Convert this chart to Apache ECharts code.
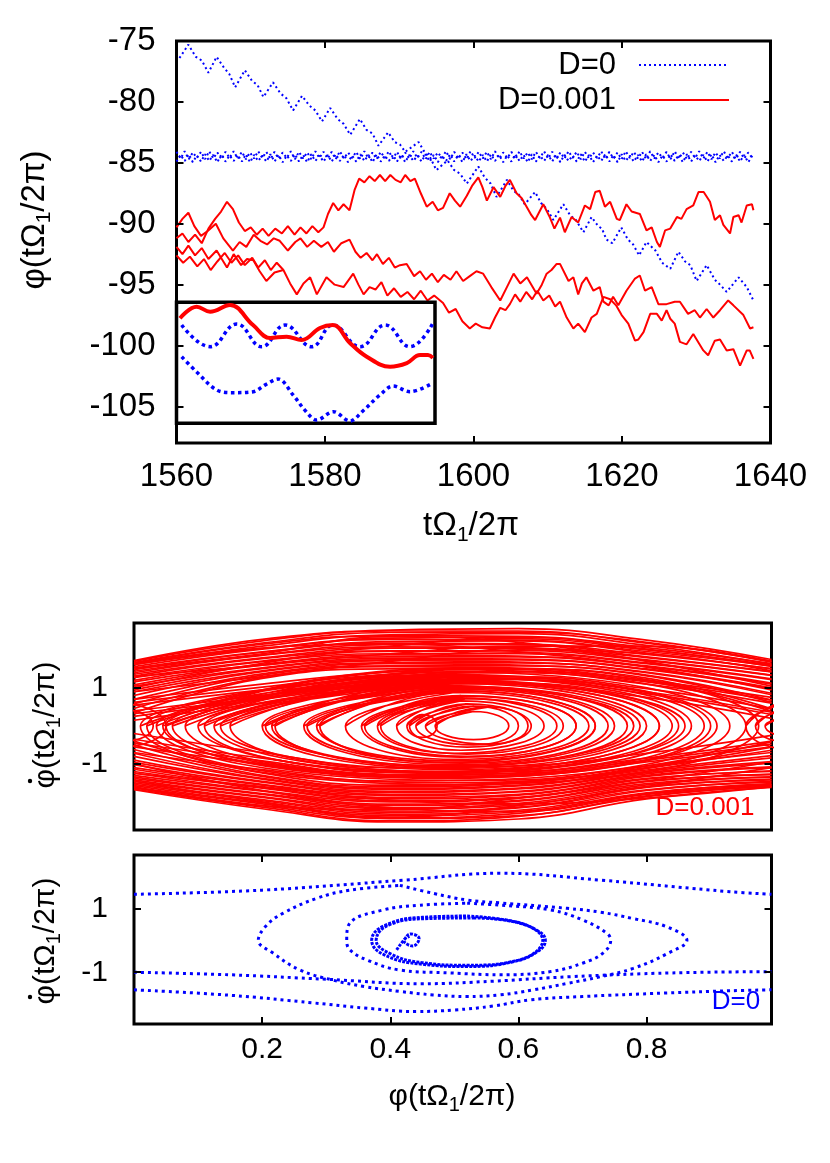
<!DOCTYPE html>
<html>
<head>
<meta charset="utf-8">
<script src="https://cdn.jsdelivr.net/npm/echarts@6/dist/echarts.min.js"></script>
<style>
html, body { margin: 0; padding: 0; background: #fff; }
#chart { width: 830px; height: 1163px; }
</style>
</head>
<body>
<div id="chart"></div>
<script>
var FONT = "'Liberation Sans', Arial, Helvetica, sans-serif";
var BLUE = '#0000ff';
var RED = '#ff0000';

// ---------- top panel: phi(t) ----------
var tLabels = [1560, 1580, 1600, 1620, 1640];
var tTicks = [1580, 1600, 1620];
var phiLabels = [-105, -100, -95, -90, -85, -80, -75];
var phiTicks = [-105, -100, -95, -90, -85, -80];

// D=0, drifting orbit (peaks and troughs of the sawtooth)
var blueDrift = [
  [1560.4,-76.4],[1561.6,-75.3],[1562.6,-76.3],[1563.4,-76.6],[1564.3,-77.6],[1565.4,-76.3],[1566.4,-77.2],[1567.1,-77.7],
  [1567.9,-78.8],[1569.2,-77.4],[1570.2,-78.3],[1570.9,-78.6],[1571.7,-79.6],[1573.0,-78.4],[1574.0,-79.3],[1574.8,-79.7],
  [1575.7,-80.7],[1576.9,-79.5],[1577.9,-80.3],[1578.7,-80.7],[1579.6,-81.6],[1580.7,-80.5],[1581.7,-81.4],[1582.5,-81.8],
  [1583.4,-82.7],[1584.7,-81.4],[1585.6,-82.3],[1586.4,-82.6],[1587.2,-83.6],[1588.5,-82.5],[1589.4,-83.3],[1590.1,-83.5],
  [1590.8,-84.1],[1592.6,-83.3],[1593.5,-84.2],[1594.2,-84.6],[1595.0,-85.6],[1596.5,-84.8],[1597.4,-85.6],[1598.2,-85.9],
  [1599.1,-86.7],[1600.65,-85.3],[1601.5,-86.2],[1602.3,-86.7],[1603.1,-87.8],[1604.5,-86.4],[1605.4,-87.3],[1606.1,-87.6],
  [1606.9,-88.4],[1608.3,-87.4],[1609.1,-88.3],[1609.9,-88.8],[1610.75,-89.7],[1612.1,-88.4],[1613.0,-89.3],[1613.8,-89.7],
  [1614.8,-90.7],[1615.9,-89.45],[1616.8,-90.2],[1617.3,-90.4],[1617.9,-91.3],[1618.7,-91.6],[1619.9,-90.3],[1620.8,-91.3],
  [1621.5,-91.7],[1622.3,-92.6],[1623.3,-91.5],[1624.5,-92.2],[1625.4,-93.2],[1626.5,-93.7],[1627.6,-92.3],[1628.5,-93.1],
  [1629.2,-93.4],[1630.05,-94.7],[1631.4,-93.4],[1632.5,-94.6],[1633.2,-95.0],[1634.1,-95.6],[1635.7,-94.4],[1636.8,-95.2],
  [1637.7,-96.3]
];

// D=0, locked orbit near -84.5: two braided strands sampled every 0.55
var flatT0 = 1560;
var flatDt = 0.55;
var flatA = [
  -84.1,-84.65,-84.05,-84.7,-84.15,-84.6,-84.1,-84.7,-84.05,-84.65,
  -84.15,-84.7,-84.1,-84.6,-84.05,-84.65,-84.1,-84.7,-84.15,-84.65,
  -84.05,-84.6,-84.1,-84.7,-84.1,-84.65,-84.15,-84.6,-84.05,-84.7,
  -84.1,-84.65,-84.15,-84.7,-84.05,-84.6,-84.1,-84.65,-84.1,-84.7,
  -84.05,-84.65,-84.15,-84.6,-84.1,-84.7,-84.05,-84.65,-84.15,-84.7,
  -84.1,-84.6,-84.05,-84.65,-84.1,-84.7,-84.15,-84.65,-84.05,-84.6,
  -84.1,-84.7,-84.1,-84.65,-84.15,-84.6,-84.05,-84.7,-84.1,-84.65,
  -84.15,-84.7,-84.05,-84.6,-84.1,-84.65,-84.1,-84.7,-84.05,-84.65,
  -84.15,-84.6,-84.1,-84.7,-84.05,-84.65,-84.15,-84.7,-84.1,-84.6,
  -84.05,-84.65,-84.1,-84.7,-84.15,-84.65,-84.05,-84.6,-84.1,-84.7,
  -84.1,-84.65,-84.15,-84.6,-84.05,-84.7,-84.1,-84.65,-84.15,-84.7,
  -84.05,-84.6,-84.1,-84.65,-84.1,-84.7,-84.05,-84.65,-84.15,-84.6,
  -84.1,-84.7,-84.05,-84.65,-84.15,-84.7,-84.1,-84.6,-84.05,-84.65,
  -84.1,-84.7,-84.15,-84.65,-84.05,-84.6,-84.1,-84.7,-84.1,-84.65,
  -84.15,-84.6
];
var flatB = [
  -84.9,-84.35,-84.85,-84.3,-84.95,-84.4,-84.9,-84.3,-84.85,-84.35,
  -84.95,-84.3,-84.9,-84.4,-84.85,-84.35,-84.9,-84.3,-84.95,-84.35,
  -84.85,-84.4,-84.9,-84.3,-84.9,-84.35,-84.95,-84.4,-84.85,-84.3,
  -84.9,-84.35,-84.95,-84.3,-84.85,-84.4,-84.9,-84.35,-84.9,-84.3,
  -84.85,-84.35,-84.95,-84.4,-84.9,-84.3,-84.85,-84.35,-84.95,-84.3,
  -84.9,-84.4,-84.85,-84.35,-84.9,-84.3,-84.95,-84.35,-84.85,-84.4,
  -84.9,-84.3,-84.9,-84.35,-84.95,-84.4,-84.85,-84.3,-84.9,-84.35,
  -84.95,-84.3,-84.85,-84.4,-84.9,-84.35,-84.9,-84.3,-84.85,-84.35,
  -84.95,-84.4,-84.9,-84.3,-84.85,-84.35,-84.95,-84.3,-84.9,-84.4,
  -84.85,-84.35,-84.9,-84.3,-84.95,-84.35,-84.85,-84.4,-84.9,-84.3,
  -84.9,-84.35,-84.95,-84.4,-84.85,-84.3,-84.9,-84.35,-84.95,-84.3,
  -84.85,-84.4,-84.9,-84.35,-84.9,-84.3,-84.85,-84.35,-84.95,-84.4,
  -84.9,-84.3,-84.85,-84.35,-84.95,-84.3,-84.9,-84.4,-84.85,-84.35,
  -84.9,-84.3,-84.95,-84.35,-84.85,-84.4,-84.9,-84.3,-84.9,-84.35,
  -84.95,-84.4
];

// D=0.001 realisations
var redA = [
  [1560.0,-91.2],[1560.8,-90.8],[1561.6,-91.5],[1562.5,-90.9],[1563.4,-91.6],[1564.3,-90.4],[1565.2,-89.6],[1566.0,-89.0],
  [1566.8,-88.2],[1567.6,-88.8],[1568.4,-89.9],[1569.2,-90.6],[1570.0,-90.3],[1570.8,-90.9],[1571.6,-90.4],[1572.4,-91.0],
  [1573.3,-90.4],[1574.2,-90.8],[1575.0,-90.2],[1575.9,-90.9],[1576.7,-90.3],[1577.5,-90.8],[1578.3,-90.2],[1579.1,-90.7],
  [1579.8,-90.3],[1580.4,-89.2],[1581.1,-88.3],[1581.8,-88.9],[1582.5,-88.4],[1583.3,-88.9],[1584.0,-87.2],[1584.6,-86.3],
  [1585.3,-86.6],[1586.0,-86.1],[1586.7,-86.5],[1587.4,-86.0],[1588.1,-86.5],[1588.8,-86.0],[1589.5,-86.4],[1590.2,-86.6],
  [1590.8,-86.0],[1591.5,-86.5],[1592.1,-86.3],[1592.9,-87.5],[1593.7,-88.6],[1594.5,-88.2],[1595.2,-88.9],[1595.9,-88.7],
  [1596.8,-87.5],[1597.5,-88.1],[1598.2,-88.6],[1599.1,-87.7],[1599.8,-86.9],[1600.65,-86.2],[1601.2,-87.0],[1601.8,-88.1],
  [1602.7,-87.0],[1603.6,-87.8],[1604.3,-86.9],[1604.9,-86.4],[1605.8,-87.5],[1606.5,-87.9],[1607.15,-88.6],[1607.8,-89.3],
  [1608.3,-89.7],[1609.4,-88.4],[1610.3,-89.5],[1610.9,-90.4],[1611.65,-89.5],[1612.3,-90.7],[1613.2,-89.45],[1614.1,-89.9],
  [1615.0,-88.5],[1615.7,-88.8],[1616.4,-87.4],[1617.0,-87.3],[1617.7,-88.6],[1618.4,-88.2],[1619.3,-89.6],[1619.7,-89.7],
  [1620.6,-88.4],[1621.3,-89.0],[1622.4,-89.2],[1623.3,-90.55],[1624.0,-90.3],[1624.7,-91.5],[1625.1,-91.9],[1625.8,-90.55],
  [1626.5,-90.4],[1627.4,-89.45],[1628.0,-89.6],[1628.7,-88.8],[1629.6,-88.5],[1630.3,-87.4],[1631.0,-87.4],[1631.85,-88.2],
  [1632.5,-89.7],[1633.2,-89.3],[1633.65,-90.1],[1634.55,-90.8],[1635.0,-89.45],[1635.7,-89.3],[1636.1,-89.9],[1636.8,-88.5],
  [1637.5,-88.4],[1637.7,-88.9]
];
var redB = [
  [1560.0,-90.3],[1560.8,-89.6],[1561.6,-89.1],[1562.4,-90.2],[1563.3,-91.0],[1564.2,-90.6],[1565.3,-90.0],[1566.3,-91.2],
  [1567.6,-92.2],[1568.5,-91.5],[1569.4,-91.9],[1570.4,-90.9],[1571.3,-91.4],[1572.2,-91.7],[1573.1,-91.2],[1573.9,-91.4],
  [1575.0,-92.2],[1576.0,-91.5],[1576.7,-91.2],[1577.6,-91.9],[1578.5,-91.4],[1579.5,-91.9],[1580.4,-91.5],[1581.2,-92.3],
  [1582.2,-91.6],[1583.3,-91.3],[1584.1,-92.3],[1584.8,-92.8],[1585.6,-92.4],[1586.4,-93.0],[1587.0,-92.5],[1587.8,-93.3],
  [1588.6,-92.8],[1589.4,-93.6],[1590.1,-93.4],[1591.0,-93.3],[1592.0,-94.3],[1592.8,-93.9],[1593.6,-94.6],[1594.4,-94.1],
  [1595.2,-94.8],[1596.0,-94.2],[1596.9,-94.6],[1597.7,-93.9],[1598.6,-94.7],[1599.5,-94.3],[1600.4,-93.9],[1601.3,-94.1],
  [1602.4,-95.2],[1603.6,-96.3],[1604.5,-95.2],[1605.4,-94.1],[1606.3,-94.9],[1607.2,-94.4],[1608.5,-95.75],[1609.2,-95.0],
  [1609.85,-94.1],[1610.5,-93.8],[1611.2,-93.3],[1611.65,-93.3],[1612.8,-94.7],[1613.45,-94.4],[1614.1,-95.8],[1614.6,-94.9],
  [1615.2,-94.4],[1616.15,-95.5],[1617.0,-95.2],[1617.5,-96.4],[1618.2,-96.7],[1618.8,-96.0],[1619.5,-96.7],[1620.6,-95.5],
  [1621.75,-94.5],[1622.4,-94.25],[1623.1,-95.5],[1624.0,-95.2],[1624.9,-96.6],[1626.0,-96.6],[1627.1,-96.4],[1627.8,-96.4],
  [1628.9,-97.4],[1629.8,-97.1],[1630.5,-97.7],[1631.4,-97.0],[1632.3,-97.7],[1633.2,-97.1],[1634.3,-96.3],[1635.0,-96.7],
  [1636.35,-97.5],[1637.25,-98.6],[1637.7,-98.5]
];
var redC = [
  [1560.0,-91.9],[1560.8,-92.5],[1561.6,-91.8],[1562.5,-92.6],[1563.4,-92.0],[1564.3,-92.9],[1565.4,-92.2],[1566.8,-93.6],
  [1567.7,-92.5],[1568.7,-93.4],[1569.5,-92.9],[1570.35,-93.0],[1571.2,-93.9],[1572.1,-94.7],[1573.2,-94.0],[1574.4,-93.8],
  [1575.3,-94.9],[1576.2,-95.8],[1577.1,-94.9],[1578.0,-94.4],[1578.9,-95.8],[1580.2,-94.4],[1581.3,-95.0],[1582.5,-95.2],
  [1583.8,-94.1],[1584.5,-95.0],[1585.2,-95.8],[1586.0,-95.2],[1586.8,-95.4],[1587.6,-94.8],[1588.4,-95.9],[1589.3,-95.3],
  [1590.2,-96.0],[1591.1,-95.6],[1592.0,-96.2],[1592.9,-95.5],[1593.8,-96.3],[1594.7,-95.9],[1595.9,-96.5],[1596.7,-97.3],
  [1597.6,-97.0],[1598.5,-98.0],[1599.5,-98.6],[1600.3,-98.2],[1601.2,-98.5],[1602.2,-98.6],[1602.9,-97.7],[1603.6,-96.9],
  [1604.3,-97.1],[1604.9,-96.6],[1605.6,-95.8],[1606.3,-96.4],[1607.1,-95.6],[1607.9,-96.2],[1608.6,-95.5],[1609.4,-96.3],
  [1610.2,-95.9],[1611.0,-96.8],[1611.65,-96.4],[1612.55,-97.7],[1613.45,-98.6],[1614.1,-98.2],[1615.0,-98.9],[1615.9,-97.7],
  [1616.6,-97.4],[1617.5,-96.0],[1618.4,-96.2],[1619.2,-96.7],[1619.95,-97.5],[1620.85,-98.2],[1621.75,-99.6],[1622.2,-99.5],
  [1622.9,-98.9],[1623.8,-97.4],[1624.7,-97.4],[1625.35,-97.95],[1626.0,-97.1],[1626.5,-97.8],[1627.1,-98.2],[1627.8,-99.7],
  [1628.7,-99.9],[1629.6,-99.05],[1630.95,-100.4],[1631.6,-100.8],[1632.5,-99.6],[1633.2,-99.5],[1634.1,-100.4],[1635.0,-100.3],
  [1635.9,-101.65],[1636.8,-100.4],[1637.2,-100.4],[1637.7,-101.1]
];
var redD = [
  [1560.0,-92.6],[1560.9,-93.2],[1561.8,-92.7],[1562.8,-93.5],[1563.7,-92.9],[1564.6,-93.8],[1565.5,-93.1],[1566.5,-92.4],
  [1567.4,-93.2],[1568.3,-92.6],[1569.2,-93.4],[1570.2,-92.8],[1571.0,-93.6],[1571.9,-93.0],[1572.7,-93.8],[1573.5,-93.2],
  [1574.4,-93.8]
];

// inset (magnified window, its own 0..100 frame)
var insetRed = [
  [1.35,86.8],[7.8,96.4],[13.0,92.2],[20.7,97.8],[29.6,81.2],[36.2,70.5],[42.6,71.6],[48.4,68.8],
  [55.5,78.8],[60.5,81.2],[67.1,66.4],[73.6,55.0],[82.6,46.8],[89.1,49.8],[94.2,56.4],[97.3,56.4],[99.2,54.0]
];
var insetBlueA = [
  [2.0,81.2],[13.0,63.3],[23.3,82.0],[33.0,63.3],[42.0,81.2],[52.3,63.3],[60.5,81.2],[71.0,63.3],
  [80.7,81.2],[90.3,63.3],[99.2,82.9]
];
var insetBlueB = [
  [2.0,55.0],[8.0,42.0],[15.6,27.5],[21.9,25.3],[29.7,26.1],[34.5,32.0],[39.3,36.6],[45.1,23.4],
  [50.0,10.0],[54.2,2.7],[60.7,9.6],[67.1,1.9],[72.0,10.0],[78.7,23.4],[83.8,30.8],[90.3,26.1],[99.2,33.3]
];

// ---------- middle panel: D=0.001 phase portrait ----------
var phaseLabels = [0.2, 0.4, 0.6, 0.8];
var dotLabels = [-1, 1];
var bandX = [0, 0.2, 0.4, 0.6, 0.8, 0.995];
var redTopBand = [
  [1.72,2.28,2.52,2.56,2.26,1.75],[1.70,2.24,2.50,2.50,2.18,1.71],[1.67,2.18,2.46,2.47,2.20,1.68],
  [1.65,2.15,2.40,2.43,2.12,1.62],[1.61,2.10,2.38,2.36,2.06,1.64],[1.62,2.04,2.31,2.34,2.02,1.57],
  [1.56,2.02,2.28,2.26,1.96,1.58],[1.52,1.95,2.22,2.24,1.92,1.50],[1.48,1.94,2.18,2.16,1.88,1.51],
  [1.44,1.87,2.14,2.14,1.82,1.43],[1.40,1.86,2.08,2.06,1.80,1.42],[1.36,1.79,2.05,2.04,1.74,1.34],
  [1.31,1.77,1.98,1.98,1.72,1.33],[1.27,1.71,1.96,1.94,1.66,1.24],[1.20,1.69,1.90,1.90,1.64,1.22],
  [1.16,1.62,1.87,1.84,1.58,1.13],[1.08,1.60,1.82,1.82,1.56,1.10],[1.04,1.53,1.78,1.76,1.50,1.00],
  [0.95,1.51,1.74,1.74,1.48,0.98],[0.90,1.45,1.72,1.68,1.42,0.86],[0.80,1.43,1.66,1.66,1.40,0.82],
  [0.70,1.37,1.64,1.60,1.34,0.68],[0.58,1.34,1.58,1.58,1.32,0.62],[0.46,1.28,1.56,1.52,1.26,0.45],
  [0.34,1.25,1.50,1.50,1.22,0.38],
  // wandering / near-separatrix passes
  [1.50,1.90,2.35,2.20,1.70,1.05],[1.00,1.65,2.10,2.30,2.00,1.60],[1.30,1.60,1.90,2.10,2.10,1.70],
  [0.90,1.30,1.70,2.00,1.90,1.45],[1.65,2.05,2.15,1.95,1.55,0.95],[0.55,0.95,1.30,1.40,1.10,0.60],
  [0.40,0.80,1.20,1.30,0.98,0.45],[0.25,0.70,1.10,1.22,0.85,0.30],[0.70,1.10,1.42,1.50,1.20,0.75],
  [0.15,0.60,1.00,1.12,0.75,0.20],[0.62,1.02,1.36,1.44,1.16,0.68],[0.32,0.74,1.14,1.26,0.90,0.36]
];
var redBottomBand = [
  [-1.68,-2.18,-2.53,-2.45,-1.92,-1.62],[-1.66,-2.14,-2.50,-2.38,-1.86,-1.58],[-1.63,-2.10,-2.44,-2.36,-1.84,-1.60],
  [-1.62,-2.05,-2.42,-2.30,-1.78,-1.52],[-1.57,-2.02,-2.36,-2.26,-1.76,-1.54],[-1.54,-1.97,-2.32,-2.22,-1.70,-1.46],
  [-1.50,-1.94,-2.27,-2.16,-1.68,-1.48],[-1.46,-1.88,-2.24,-2.14,-1.62,-1.40],[-1.42,-1.86,-2.18,-2.08,-1.60,-1.42],
  [-1.38,-1.80,-2.15,-2.04,-1.55,-1.34],[-1.34,-1.78,-2.09,-1.98,-1.52,-1.35],[-1.30,-1.72,-2.06,-1.96,-1.47,-1.27],
  [-1.24,-1.70,-2.00,-1.90,-1.45,-1.28],[-1.20,-1.64,-1.97,-1.88,-1.40,-1.18],[-1.14,-1.62,-1.92,-1.82,-1.38,-1.20],
  [-1.10,-1.56,-1.88,-1.80,-1.33,-1.10],[-1.02,-1.54,-1.83,-1.74,-1.30,-1.08],[-0.96,-1.48,-1.80,-1.72,-1.26,-0.98],
  [-0.90,-1.46,-1.75,-1.66,-1.23,-0.94],[-0.80,-1.40,-1.72,-1.64,-1.20,-0.84],[-0.72,-1.38,-1.67,-1.58,-1.16,-0.78],
  [-0.62,-1.33,-1.64,-1.56,-1.12,-0.64],[-0.50,-1.30,-1.60,-1.50,-1.10,-0.56],[-0.40,-1.24,-1.56,-1.48,-1.06,-0.42],
  [-1.45,-2.00,-2.40,-2.10,-1.60,-1.10],[-1.00,-1.70,-2.15,-2.25,-1.80,-1.55],[-1.25,-1.60,-1.95,-2.05,-1.90,-1.60],
  [-1.60,-2.10,-2.20,-1.90,-1.45,-0.95],[-0.55,-1.00,-1.35,-1.30,-0.95,-0.55],[-0.35,-0.85,-1.22,-1.20,-0.85,-0.40],
  [-0.20,-0.70,-1.10,-1.05,-0.72,-0.25],[-0.70,-1.15,-1.45,-1.42,-1.05,-0.70],[-0.45,-0.92,-1.28,-1.25,-0.90,-0.48]
];
// libration loops: [left x, centre x, right x, top y, bottom y]
var redLoops = [
  [0.455,0.555,0.615,0.5,-0.48],[0.426,0.45,0.473,0.3,-0.3],[0.47,0.53,0.585,0.38,-0.36],
  [0.43,0.52,0.62,0.58,-0.56],[0.41,0.51,0.64,0.66,-0.64],[0.38,0.50,0.66,0.74,-0.72],
  [0.355,0.51,0.69,0.8,-0.82],[0.33,0.50,0.71,0.88,-0.88],[0.29,0.49,0.72,0.94,-0.96],
  [0.265,0.50,0.75,1.0,-1.02],[0.22,0.48,0.77,1.06,-1.08],[0.2,0.49,0.80,1.12,-1.12],
  [0.15,0.47,0.82,1.18,-1.2],[0.11,0.48,0.85,1.22,-1.25],[0.08,0.47,0.87,1.3,-1.3],
  [0.05,0.48,0.91,1.36,-1.38],[0.035,0.49,0.93,1.42,-1.43],[0.02,0.49,0.955,1.48,-1.5],
  [0.01,0.5,0.975,1.52,-1.55],
  [0.045,0.5,0.9,1.33,-1.36],[0.06,0.49,0.89,1.28,-1.33],[0.10,0.48,0.84,1.2,-1.22],
  [0.125,0.49,0.86,1.16,-1.2],[0.135,0.5,0.82,1.14,-1.15],[0.205,0.5,0.79,1.04,-1.06],
  [0.215,0.49,0.78,1.02,-1.05],[0.27,0.51,0.74,0.96,-0.98],[0.285,0.5,0.72,0.92,-0.92],
  [0.36,0.52,0.69,0.78,-0.8],[0.385,0.52,0.67,0.72,-0.74],[0.44,0.53,0.6,0.52,-0.5],
  [-0.06,-0.015,0.03,0.42,-0.4],[-0.08,-0.02,0.05,0.58,-0.55],
  [0.97,1.02,1.07,0.45,-0.42],[0.985,1.03,1.06,0.28,-0.3],[0.955,1.02,1.09,0.62,-0.6]
];

// ---------- bottom panel: D=0 phase portrait ----------
var blueRotTop = [[0,1.44],[0.2,1.57],[0.42,1.88],[0.57,2.1],[0.73,1.88],[0.93,1.52],[0.995,1.44]];
var blueRotLow1 = [[0,-1.0],[0.15,-1.08],[0.3,-1.22],[0.45,-1.36],[0.56,-1.28],[0.68,-1.14],[0.84,-1.02],[0.995,-0.98]];
var blueRotLow2 = [[0,-1.55],[0.15,-1.72],[0.28,-1.96],[0.36,-2.12],[0.44,-2.23],[0.5,-2.18],[0.56,-2.06],[0.62,-1.86],
  [0.7,-1.76],[0.83,-1.65],[0.93,-1.58],[0.995,-1.55]];
// closed loops, listed from the top point round and back to it
var blueLoopBig = [[0.415,1.72],[0.467,1.47],[0.52,1.26],[0.571,1.17],[0.676,1.0],[0.728,0.88],[0.779,0.68],[0.832,0.42],
  [0.863,0],[0.832,-0.42],[0.779,-0.88],[0.728,-1.14],[0.676,-1.35],[0.624,-1.55],[0.571,-1.71],[0.519,-1.76],
  [0.467,-1.71],[0.415,-1.6],[0.36,-1.45],[0.311,-1.25],[0.259,-0.93],[0.217,-0.4],[0.194,0],[0.206,0.45],
  [0.233,0.85],[0.286,1.32],[0.337,1.57],[0.415,1.72]];
var blueLoopMid = [[0.52,1.16],[0.571,1.1],[0.65,0.95],[0.701,0.63],[0.738,0.22],[0.744,0],[0.732,-0.4],[0.701,-0.71],
  [0.65,-0.98],[0.571,-1.08],[0.493,-1.02],[0.415,-0.93],[0.364,-0.62],[0.337,-0.3],[0.332,0],[0.337,0.54],
  [0.389,0.95],[0.447,1.1],[0.52,1.16]];
var blueLoopIn1 = [[0.52,0.76],[0.59,0.6],[0.63,0.3],[0.642,0],[0.63,-0.35],[0.59,-0.68],[0.52,-0.82],[0.45,-0.75],
  [0.39,-0.45],[0.371,0],[0.39,0.45],[0.45,0.72],[0.52,0.76]];
var blueLoopIn2 = [[0.53,0.7],[0.6,0.55],[0.638,0],[0.6,-0.62],[0.52,-0.78],[0.45,-0.7],[0.40,-0.42],[0.378,0],
  [0.40,0.5],[0.46,0.68],[0.53,0.7]];
var blueCurl = [[0.41,-0.3],[0.421,0],[0.432,0.2],[0.445,0.05],[0.435,-0.18],[0.421,0],[0.43,0.12]];

// ---------- build ----------
var chart = echarts.init(document.getElementById('chart'));

function mkAxis(grid, pos, min, max, ticks, labels, fontSize, margin) {
  return {
    type: 'value', gridIndex: grid, position: pos, min: min, max: max, z: 8,
    splitLine: { show: false },
    axisLine: { show: false, onZero: false },
    axisTick: { show: !!ticks, inside: true, length: 7, customValues: ticks || [], lineStyle: { color: '#000', width: 2 } },
    axisLabel: labels ? {
      show: true, customValues: labels, color: '#000', fontSize: fontSize, fontFamily: FONT, margin: margin,
      formatter: function (v) { return String(v); }
    } : { show: false }
  };
}

function mkLine(name, data, xi, yi, color, width, type, extra) {
  var s = {
    type: 'line', name: name, data: data, xAxisIndex: xi, yAxisIndex: yi,
    symbol: 'none', silent: true, clip: true,
    lineStyle: { color: color, width: width, type: type || 'solid', cap: 'butt' },
    itemStyle: { color: color }
  };
  for (var k in extra) s[k] = extra[k];
  return s;
}

var series = [];
var dotTop = [2, 3];
series.push(mkLine('D=0', blueDrift, 0, 0, BLUE, 2, dotTop));
series.push(mkLine('D=0', flatA.map(function (v, i) { return [flatT0 + i * flatDt, v]; }), 0, 0, BLUE, 2, dotTop));
series.push(mkLine('D=0', flatB.map(function (v, i) { return [flatT0 + i * flatDt, v]; }), 0, 0, BLUE, 2, dotTop));
[redA, redB, redC, redD].forEach(function (d) {
  series.push(mkLine('D=0.001', d, 0, 0, RED, 2));
});

// inset
series.push(mkLine('D=0', insetBlueA, 1, 1, BLUE, 3.5, [3.5, 3.5], { smooth: 0.45, z: 6 }));
series.push(mkLine('D=0', insetBlueB, 1, 1, BLUE, 3.5, [3.5, 3.5], { smooth: 0.35, z: 6 }));
series.push(mkLine('D=0.001', insetRed, 1, 1, RED, 4, 'solid', { smooth: 0.4, z: 6 }));

// middle panel
redTopBand.concat(redBottomBand).forEach(function (ys) {
  series.push(mkLine('D=0.001', ys.map(function (y, i) { return [bandX[i], y]; }), 2, 2, RED, 1.7, 'solid', { smooth: 0.45 }));
});
redLoops.forEach(function (o) {
  var d = [[o[0], 0], [o[1], o[3]], [o[2], 0], [o[1], o[4]], [o[0], 0], [o[1], o[3]]];
  series.push(mkLine('D=0.001', d, 2, 2, RED, 1.7, 'solid', { smooth: 0.55 }));
});

// bottom panel
var dotLow = [3, 4];
[blueRotTop, blueRotLow1, blueRotLow2, blueLoopBig, blueLoopMid].forEach(function (d) {
  series.push(mkLine('D=0', d, 3, 3, BLUE, 3, dotLow, { smooth: 0.4 }));
});
[blueLoopIn1, blueLoopIn2, blueCurl].forEach(function (d) {
  series.push(mkLine('D=0', d, 3, 3, BLUE, 3, [3, 1.2], { smooth: 0.45 }));
});

function title(text, x, y, size, rotate, color) {
  return {
    type: 'text', x: x, y: y, rotation: rotate ? Math.PI / 2 : 0, z: 20,
    style: {
      text: text, align: 'center', verticalAlign: 'middle',
      rich: {
        a: { fontSize: size, fontFamily: FONT, fill: color || '#000', lineHeight: size + 6 },
        s: { fontSize: Math.round(size * 0.65), fontFamily: FONT, fill: color || '#000', lineHeight: Math.round(size * 0.65), verticalAlign: 'bottom' }
      }
    }
  };
}

var legendBase = {
  orient: 'horizontal', right: 100, itemWidth: 90, itemHeight: 12, align: 'right', padding: 0,
  selectedMode: false, itemStyle: { opacity: 0 },
  textStyle: { fontSize: 31, fontFamily: FONT, color: '#000', padding: [0, 18, 0, 0], lineHeight: 34 }
};

chart.setOption({
  animation: false,
  backgroundColor: '#fff',
  grid: [
    { left: 176.5, top: 41, width: 594, height: 402, show: true, borderColor: '#000', borderWidth: 3, backgroundColor: 'transparent' },
    { left: 176.5, top: 302.3, width: 258.5, height: 121, show: true, borderColor: '#000', borderWidth: 3.5, backgroundColor: '#fff', z: 5 },
    { left: 134, top: 623, width: 637.5, height: 207, show: true, borderColor: '#000', borderWidth: 3, backgroundColor: 'transparent' },
    { left: 134, top: 855, width: 637.5, height: 169, show: true, borderColor: '#000', borderWidth: 3, backgroundColor: 'transparent' }
  ],
  xAxis: [
    mkAxis(0, 'bottom', 1560, 1640, tTicks, tLabels, 33, 17),
    mkAxis(1, 'bottom', 0, 100, null, null),
    mkAxis(2, 'bottom', 0, 0.995, null, null),
    mkAxis(3, 'bottom', 0, 0.995, phaseLabels, phaseLabels, 30, 11),
    mkAxis(0, 'top', 1560, 1640, tTicks, null),
    mkAxis(3, 'top', 0, 0.995, phaseLabels, null)
  ],
  yAxis: [
    mkAxis(0, 'left', -108, -75, phiTicks, phiLabels, 33, 21),
    mkAxis(1, 'left', 0, 100, null, null),
    mkAxis(2, 'left', -2.74, 2.71, dotLabels, dotLabels, 30, 26),
    mkAxis(3, 'left', -2.62, 2.67, dotLabels, dotLabels, 30, 26),
    mkAxis(0, 'right', -108, -75, phiTicks, null),
    mkAxis(2, 'right', -2.74, 2.71, dotLabels, null),
    mkAxis(3, 'right', -2.62, 2.67, dotLabels, null)
  ],
  legend: [
    Object.assign({}, legendBase, { data: ['D=0'], top: 48 }),
    Object.assign({}, legendBase, { data: ['D=0.001'], top: 83 })
  ],
  graphic: [
    title('{a|φ(tΩ}{s|1}{a|/2π)}', 35, 220, 33, true),
    title('{a|tΩ}{s|1}{a|/2π}', 471, 526, 33, false),
    title('{a|φ(tΩ}{s|1}{a|/2π)}', 46, 725, 30, true),
    title('{a|φ(tΩ}{s|1}{a|/2π)}', 46, 941, 30, true),
    { type: 'circle', z: 20, shape: { cx: 30, cy: 781, r: 2.2 }, style: { fill: '#000' } },
    { type: 'circle', z: 20, shape: { cx: 30, cy: 997, r: 2.2 }, style: { fill: '#000' } },
    title('{a|φ(tΩ}{s|1}{a|/2π)}', 452, 1097, 30, false),
    { type: 'text', x: 705, y: 808, z: 20, style: { text: 'D=0.001', fill: RED, fontSize: 26, fontFamily: FONT, align: 'center', verticalAlign: 'middle' } },
    { type: 'text', x: 736, y: 1002, z: 20, style: { text: 'D=0', fill: BLUE, fontSize: 26, fontFamily: FONT, align: 'center', verticalAlign: 'middle' } }
  ],
  series: series
});
</script>
</body>
</html>
